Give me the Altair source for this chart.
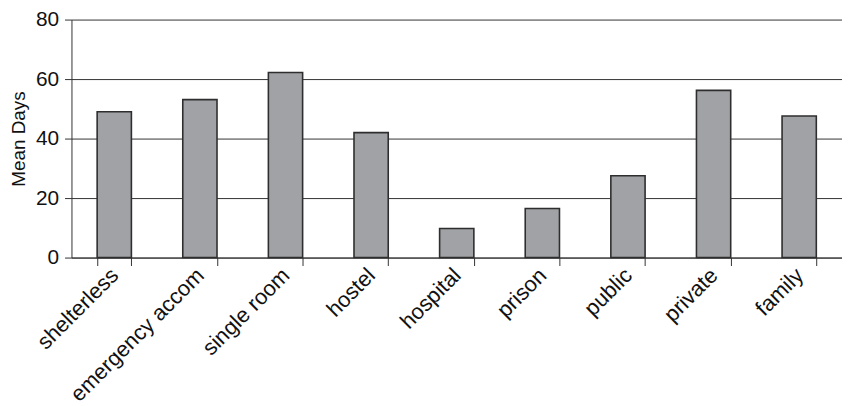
import altair as alt
import pandas as pd

categories = [
    "shelterless",
    "emergency accom",
    "single room",
    "hostel",
    "hospital",
    "prison",
    "public",
    "private",
    "family",
]
mean_days = [49, 53.1, 62.2, 42, 9.8, 16.5, 27.5, 56.2, 47.6]

df = pd.DataFrame({"place": categories, "days": mean_days})

font = "Liberation Sans"

chart = (
    alt.Chart(df)
    .mark_bar(color="#a0a2a5", stroke="#2e2e2e", strokeWidth=1.6)
    .encode(
        x=alt.X(
            "place:N",
            sort=categories,
            title=None,
            scale=alt.Scale(paddingInner=0.6, paddingOuter=0.3),
            axis=alt.Axis(
                labelAngle=-45,
                labelAlign="right",
                labelBaseline="middle",
                labelFontSize=22,
                labelFont=font,
                labelColor="#111111",
                tickBand="extent",
                tickSize=8,
                tickColor="#333333",
                domainColor="#333333",
                labelPadding=6,
                grid=False,
            ),
        ),
        y=alt.Y(
            "days:Q",
            title="Mean Days",
            scale=alt.Scale(domain=[0, 80]),
            axis=alt.Axis(
                values=[0, 20, 40, 60, 80],
                labelFontSize=21,
                labelFont=font,
                labelColor="#111111",
                titleFont=font,
                titleFontSize=19,
                titleFontWeight="normal",
                titleColor="#111111",
                titlePadding=7,
                tickSize=7,
                labelPadding=6,
                tickColor="#333333",
                domainColor="#333333",
                gridColor="#333333",
                gridOpacity=1,
            ),
        ),
    )
    .properties(
        width=777,
        height=240,
        autosize=alt.AutoSizeParams(type="none"),
        padding={"left": 64, "top": 10, "right": 0, "bottom": 148},
    )
    .configure_view(stroke=None)
)

chart.save("out.html", embed_options={"renderer": "svg", "actions": False})
